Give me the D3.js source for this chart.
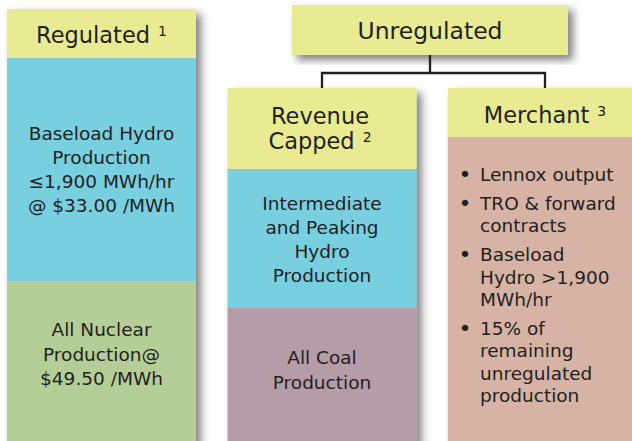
<!DOCTYPE html>
<html>
<head>
<meta charset="UTF-8">
<title>Production categories</title>
<script src="https://cdnjs.cloudflare.com/ajax/libs/d3/7.8.5/d3.min.js"></script>
<style>
  body { margin: 0; background: #fff; }
  svg text {
    font-family: "DejaVu Sans", sans-serif;
    fill: #231f20;
  }
  .head { font-size: 22.5px; }
  .body { font-size: 18.5px; }
  .sup { font-size: 14px; }
  .dot { font-size: 22px; }
</style>
</head>
<body>
<div id="chart"></div>

<script>
// columns and their header notes
var columns = ["Regulated", "Revenue Capped", "Merchant"];
var headerLines = [["Regulated"], ["Revenue", "Capped"], ["Merchant"]];
var notes = ["1", "2", "3"];
var parentLabel = "Unregulated";
var parentChildren = ["Revenue Capped", "Merchant"];

// blocks inside each column (top to bottom)
var regulatedBlocks = [
  ["Baseload Hydro", "Production", "\u22641,900 MWh/hr", "@ $33.00 /MWh"],
  ["All Nuclear", "Production@", "$49.50 /MWh"]
];
var revenueBlocks = [
  ["Intermediate", "and Peaking", "Hydro", "Production"],
  ["All Coal", "Production"]
];
var merchantBullets = [
  ["Lennox output"],
  ["TRO & forward", "contracts"],
  ["Baseload", "Hydro >1,900", "MWh/hr"],
  ["15% of", "remaining", "unregulated", "production"]
];

var width = 632;
var height = 441;

var colors = {
  head: "#e9eb93",
  hydro: "#78cfe0",
  nuclear: "#b5cd96",
  coal: "#b69ca7",
  merchant: "#d6b3a4",
  ink: "#231f20"
};

var svg = d3.select("#chart")
  .append("svg")
  .attr("width", width)
  .attr("height", height);

var defs = svg.append("defs");
var shadow = defs.append("filter")
  .attr("id", "shadow")
  .attr("x", "-10%").attr("y", "-10%")
  .attr("width", "130%").attr("height", "130%");
shadow.append("feDropShadow")
  .attr("dx", 5).attr("dy", 5)
  .attr("stdDeviation", 4)
  .attr("flood-color", "#000")
  .attr("flood-opacity", 0.5);

// horizontal layout of the three columns
var x = d3.scaleBand()
  .domain(columns)
  .range([7, 637])
  .paddingInner(0.1429)
  .paddingOuter(0);

var bw = x.bandwidth();
function cx(name) { return x(name) + bw / 2; }

// vertical layout (header top, header bottom, split between blocks)
var layout = {
  "Regulated": { top: 9, head: 58, split: 281 },
  "Revenue Capped": { top: 88, head: 169, split: 308 },
  "Merchant": { top: 88, head: 137 }
};
var bottom = height + 20;

// parent box
var parent = { x: 292, y: 5, w: 276, h: 50 };

svg.append("rect")
  .attr("x", parent.x).attr("y", parent.y)
  .attr("width", parent.w).attr("height", parent.h)
  .attr("fill", colors.head)
  .attr("filter", "url(#shadow)");

svg.append("text")
  .attr("class", "head")
  .attr("x", parent.x + parent.w / 2)
  .attr("y", 39)
  .attr("text-anchor", "middle")
  .style("font-size", "23.5px")
  .text(parentLabel);

// connector
var joinY = 73;
var px = parent.x + parent.w / 2;
var conn = svg.append("g")
  .attr("fill", "none")
  .attr("stroke", colors.ink)
  .attr("stroke-width", 2.3);
conn.append("line")
  .attr("x1", px).attr("x2", px)
  .attr("y1", parent.y + parent.h).attr("y2", joinY);
conn.append("path")
  .attr("d", d3.line()([
    [cx(parentChildren[0]), layout[parentChildren[0]].top],
    [cx(parentChildren[0]), joinY],
    [545, joinY],
    [545, layout[parentChildren[1]].top]
  ]));

// column backgrounds
var blockFill = {
  "Regulated": [colors.hydro, colors.nuclear],
  "Revenue Capped": [colors.hydro, colors.coal],
  "Merchant": [colors.merchant]
};

columns.forEach(function(name) {
  var L = layout[name];
  var g = svg.append("g").attr("filter", "url(#shadow)");
  var edges = L.split ? [L.head, L.split, bottom] : [L.head, bottom];
  var w = name === "Merchant" ? bw + 20 : bw;
  g.append("rect")
    .attr("x", x(name)).attr("y", L.top)
    .attr("width", w).attr("height", L.head - L.top)
    .attr("fill", colors.head);
  blockFill[name].forEach(function(c, i) {
    g.append("rect")
      .attr("x", x(name)).attr("y", edges[i])
      .attr("width", w).attr("height", edges[i + 1] - edges[i])
      .attr("fill", c);
  });
});

// header labels with notes
var headBase = {
  "Regulated": [43],
  "Revenue Capped": [124, 149],
  "Merchant": [123]
};
var headX = { "Regulated": 101.5, "Revenue Capped": 320, "Merchant": 545 };

columns.forEach(function(name, i) {
  var lines = headerLines[i];
  lines.forEach(function(line, j) {
    var t = svg.append("text")
      .attr("class", "head")
      .attr("x", headX[name])
      .attr("y", headBase[name][j])
      .attr("text-anchor", "middle");
    t.append("tspan").text(line);
    if (j === lines.length - 1) {
      t.append("tspan")
        .attr("class", "sup")
        .attr("dx", 8)
        .attr("dy", -7)
        .text(notes[i]);
    }
  });
});

// centered body blocks
function block(lines, xc, firstBase, step) {
  var t = svg.append("text")
    .attr("class", "body")
    .attr("text-anchor", "middle");
  lines.forEach(function(line, j) {
    t.append("tspan")
      .attr("x", xc)
      .attr("y", firstBase + j * step)
      .text(line);
  });
}

block(regulatedBlocks[0], 101.5, 140, 24);
block(regulatedBlocks[1], 101.5, 336, 24.5);
block(revenueBlocks[0], 322, 210, 24);
block(revenueBlocks[1], 322, 364, 25);

// merchant bullets
var by = 181;
var lineStep = 22.4;
var gap = 6.5;
merchantBullets.forEach(function(lines) {
  svg.append("text")
    .attr("class", "dot")
    .attr("x", 465)
    .attr("y", by + 1)
    .attr("text-anchor", "middle")
    .text("\u2022");
  var t = svg.append("text").attr("class", "body");
  lines.forEach(function(line, j) {
    t.append("tspan")
      .attr("x", 480)
      .attr("y", by + j * lineStep)
      .text(line);
  });
  by += lines.length * lineStep + gap;
});
</script>
</body>
</html>
